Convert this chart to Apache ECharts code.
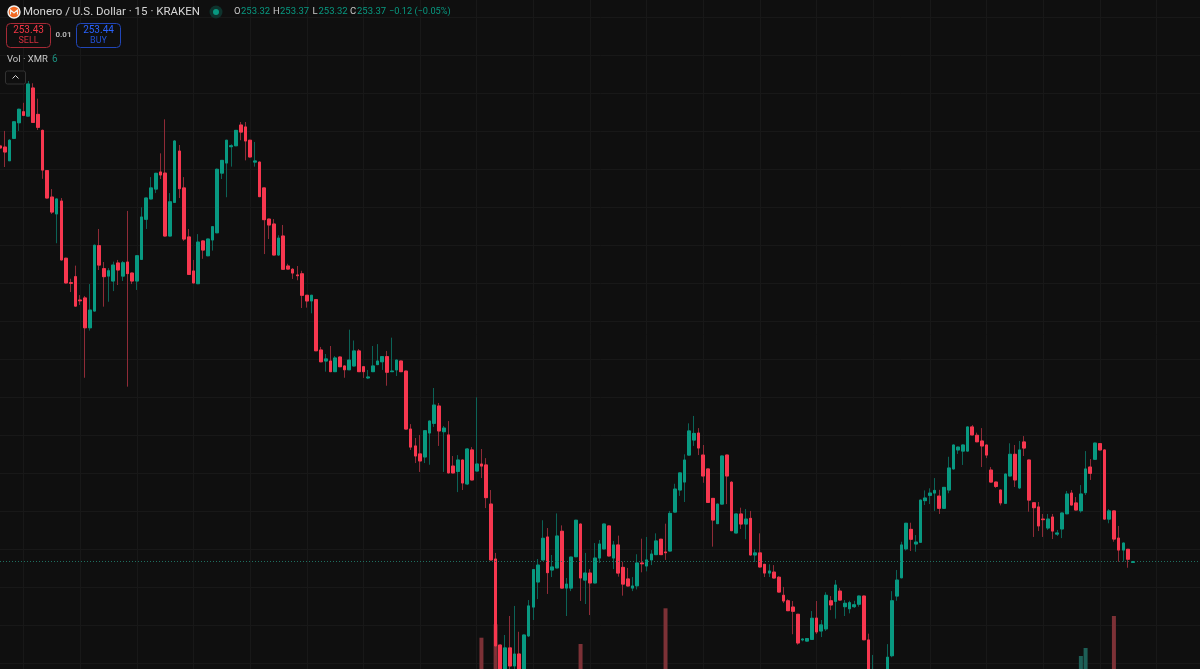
<!DOCTYPE html>
<html><head><meta charset="utf-8">
<style>html,body{margin:0;padding:0;background:#0f0f0f}#c{width:1200px;height:669px}</style>
<script src="https://cdn.jsdelivr.net/npm/echarts@6/dist/echarts.min.js"></script>
</head><body><div id="c"></div>
<script>
const opens=[275.24,275.18,274.46,275.64,276.46,277.04,276.81,278.29,276.90,276.06,
273.94,272.55,271.66,272.34,269.33,268.04,268.36,267.13,267.24,265.67,
266.55,269.99,268.78,268.39,268.13,269.08,268.39,269.13,268.55,268.13,
269.27,271.38,272.45,272.97,273.87,273.81,270.50,272.27,274.97,273.03,
270.45,268.66,267.99,270.24,269.46,270.29,270.67,273.81,274.34,275.20,
275.25,276.34,276.24,275.54,274.39,274.39,273.03,271.39,271.13,269.50,
270.50,268.92,268.75,268.45,268.51,267.38,267.08,267.15,264.50,263.92,
263.92,263.36,264.13,263.66,263.46,263.66,264.45,263.62,263.03,263.36,
263.73,263.88,264.15,263.36,263.45,263.92,263.39,260.34,259.45,259.03,
258.87,260.13,260.64,261.55,260.20,260.03,258.39,258.11,258.71,257.45,
259.24,258.13,258.50,258.45,256.39,253.50,248.97,247.39,248.82,247.87,
248.50,247.13,249.45,250.97,252.29,253.45,254.66,252.92,253.03,254.96,
251.97,251.97,253.62,255.34,252.39,252.76,252.24,253.55,254.03,255.24,
253.55,254.24,253.06,252.45,251.97,252.09,253.29,253.13,253.45,253.73,
254.54,253.87,253.92,255.97,257.13,257.55,258.97,259.76,260.13,258.97,
258.24,256.69,255.36,256.39,258.97,257.54,254.87,255.87,255.34,255.64,
253.71,253.82,253.22,252.76,252.81,252.54,251.59,251.30,250.97,250.59,
249.24,249.18,249.27,250.39,249.71,249.82,251.30,251.27,251.81,250.99,
250.88,250.99,251.12,251.55,249.24,246.60,246.50,246.50,246.87,248.41,
251.55,252.51,254.03,255.06,254.29,254.38,256.57,256.85,256.97,256.81,
256.17,257.13,258.24,259.24,259.18,259.18,260.45,260.01,259.71,259.50,
258.18,257.55,257.13,256.43,257.87,259.01,257.24,259.66,258.71,256.46,
256.24,255.60,255.13,255.71,254.81,255.08,255.88,256.97,256.45,256.04,
256.99,258.34,258.75,259.57,259.24,255.60,256.03,254.60,253.97,254.01,
253.32];
const closes=[275.13,274.92,275.54,276.51,277.17,276.85,278.50,276.48,276.22,273.97,
272.50,271.76,272.45,269.24,268.03,268.01,266.81,267.09,265.67,266.60,
270.01,268.97,268.36,268.67,268.97,268.71,269.09,268.52,268.13,269.46,
271.50,272.50,273.03,273.80,273.71,270.50,272.30,275.50,272.99,270.34,
268.48,268.03,270.18,269.76,270.34,270.99,274.01,274.48,275.54,275.25,
276.06,275.97,275.50,274.66,274.45,272.57,271.36,271.08,269.50,270.39,
268.75,268.76,268.55,268.41,267.38,267.08,267.38,264.46,263.88,264.03,
263.36,264.08,263.62,263.46,263.97,264.45,263.36,263.36,263.08,263.66,
263.92,264.15,263.33,263.39,263.97,263.36,260.34,259.39,258.92,258.66,
260.25,260.76,261.60,260.24,260.39,258.03,258.03,258.71,257.50,259.29,
257.66,258.50,258.39,256.73,253.45,248.92,247.13,248.82,247.87,248.50,
247.13,249.50,251.03,252.94,253.18,254.59,252.78,253.08,254.71,251.97,
252.18,253.60,255.54,252.50,252.76,252.24,253.55,254.29,255.34,253.66,
254.24,252.76,252.18,252.08,252.08,253.29,253.25,253.45,253.76,254.45,
253.73,253.83,255.90,257.18,258.03,258.71,260.24,260.11,259.34,257.87,
256.48,255.55,256.39,258.92,257.87,254.99,255.87,255.34,255.60,253.71,
253.82,253.08,252.76,252.87,252.50,251.76,251.29,250.78,250.75,249.08,
249.29,249.31,250.38,249.66,250.03,251.59,251.08,252.13,251.34,251.17,
251.20,251.09,251.55,249.25,246.87,247.39,247.00,246.90,248.33,251.30,
252.39,254.24,255.38,254.54,254.39,256.60,256.71,256.97,257.11,256.17,
257.27,258.29,259.50,259.39,259.50,260.45,260.03,259.67,259.45,258.97,
257.55,257.32,256.45,257.97,259.01,257.66,259.24,259.34,256.60,256.20,
255.24,255.57,255.60,254.97,254.87,255.92,256.92,256.34,256.08,256.92,
258.24,258.01,259.60,259.24,255.60,256.03,254.55,253.97,254.34,253.49,
253.37];
const lows=[275.03,274.13,274.46,275.60,276.03,276.81,276.80,276.45,276.08,273.51,
272.48,271.66,270.12,269.22,268.00,267.55,266.79,266.87,263.04,265.52,
266.53,268.71,266.78,267.04,267.60,267.92,268.13,262.57,267.97,267.66,
269.25,270.87,272.43,272.76,273.50,270.48,270.48,272.25,272.50,270.24,
268.46,268.01,267.97,269.30,269.44,269.73,270.65,273.50,272.54,274.15,
275.23,275.54,274.48,274.64,274.15,272.55,269.55,270.34,269.48,269.45,
268.73,268.74,268.24,268.17,266.71,266.73,266.43,264.44,263.86,263.36,
263.34,263.34,263.60,263.04,263.44,263.64,263.34,263.03,262.97,263.34,
263.71,263.45,262.62,263.34,263.13,263.34,260.32,259.24,258.55,258.08,
258.55,258.46,260.45,259.45,258.08,258.01,258.01,257.02,257.13,257.39,
257.64,258.11,257.76,256.18,253.43,248.41,247.00,247.30,247.60,247.55,
247.00,247.00,249.39,250.29,251.39,253.43,251.66,252.55,253.01,251.95,
250.50,251.81,253.60,251.29,251.13,250.55,252.22,253.29,254.01,253.64,
252.97,252.57,251.57,252.06,251.81,251.90,252.80,252.85,253.18,253.71,
253.71,253.45,253.90,255.95,256.82,256.50,258.95,259.45,258.97,257.51,
256.46,254.15,255.34,256.37,256.39,254.97,254.85,255.08,254.54,253.69,
253.34,253.06,252.55,252.55,252.48,251.74,251.18,250.76,249.54,248.99,
249.17,249.16,249.25,249.55,249.39,249.71,250.81,250.36,251.32,250.50,
250.64,250.92,250.99,249.23,246.80,246.50,246.40,246.40,246.80,248.33,
251.30,252.49,253.94,253.92,253.88,254.36,256.34,256.39,256.03,255.87,
256.15,256.96,258.22,259.03,258.45,259.16,260.01,259.65,258.34,258.81,
257.53,257.24,256.32,256.41,257.85,257.29,257.18,258.92,255.99,254.66,
254.97,254.66,255.03,254.55,254.71,254.60,255.86,256.32,256.06,255.94,
256.87,257.66,258.73,259.22,255.58,255.38,254.41,253.36,253.36,253.04,
253.32];
const highs=[275.45,276.03,275.60,276.55,277.20,277.51,278.66,278.54,277.73,276.10,
273.96,272.97,272.47,272.50,269.35,268.25,268.94,267.39,267.34,267.97,
270.05,270.87,269.13,268.81,269.15,269.24,269.18,271.82,268.57,269.48,
272.01,272.52,273.60,273.82,274.85,276.64,272.76,275.55,275.29,273.60,
270.87,269.24,270.60,270.26,270.36,271.01,274.05,274.50,275.56,275.33,
276.08,276.50,276.50,275.56,275.45,274.41,273.05,271.41,271.39,270.54,
271.08,269.04,268.81,268.92,268.67,267.40,267.40,267.17,264.66,264.29,
264.71,264.18,264.15,263.68,265.57,265.00,264.55,263.64,263.45,264.71,
264.81,264.17,264.45,265.15,263.99,263.94,263.41,260.60,259.87,260.03,
260.27,260.78,262.50,261.71,260.50,260.76,258.92,258.97,258.73,259.34,
259.39,262.01,259.29,258.81,257.13,253.82,249.00,249.50,250.50,251.03,
249.67,249.52,251.34,252.96,253.50,255.54,255.13,253.71,255.90,255.27,
252.50,253.62,255.56,255.36,253.82,252.97,254.34,254.50,255.36,255.26,
254.45,254.73,253.36,253.03,252.55,253.75,254.57,254.66,253.97,254.85,
254.56,255.36,256.03,257.46,258.05,259.01,260.64,261.03,260.39,259.50,
258.26,256.71,256.41,258.94,258.99,257.60,255.89,256.20,256.13,256.03,
254.01,254.85,253.24,253.22,253.18,252.60,252.03,251.38,251.29,250.61,
249.31,249.33,250.76,251.29,250.29,251.75,251.55,252.39,251.97,251.34,
251.30,251.30,251.57,251.57,249.57,248.45,247.10,247.00,249.02,251.81,
252.92,254.41,255.40,255.41,254.76,256.62,257.11,257.22,257.76,257.14,
257.29,258.88,259.52,259.41,259.52,260.47,260.55,260.15,260.39,259.52,
258.34,257.57,257.15,257.99,259.59,259.50,259.71,259.97,258.73,256.48,
256.50,255.87,255.87,255.87,255.03,255.94,257.08,257.13,256.76,257.39,
259.18,258.76,259.62,259.59,259.26,256.13,256.05,255.24,254.36,254.03,
253.37];
const volumeBars=[102,105,123,141,229,230,236];
const volumeVals=[638,772,575,932,455,535,855];
const lastPrice=253.37;
const slotCount=256;
const categories=Array.from({length:slotCount},(_,i)=>String(i));
const UP='#089981',DOWN='#f7374f',UPW='#0b6357',DOWNW='#8f2b37';
const FONT='Roboto, "Noto Sans", sans-serif';

const wicks=opens.map((o,i)=>[o,closes[i],lows[i],highs[i]]);
const bodies=opens.map((o,i)=>[o,closes[i],Math.min(o,closes[i]),Math.max(o,closes[i])]);
const volumes=categories.map((c,i)=>{
  const k=volumeBars.indexOf(i);
  if(k<0) return null;
  const up=closes[i]>=opens[i];
  return {value:volumeVals[k],itemStyle:{color:up?'#1d5f57':'#7c3136'}};
});

const T=(text,x,y,fill,size,extra)=>({type:'text',silent:true,z:100,style:Object.assign({text,x,y,fill,font:(extra&&extra.weight?extra.weight+' ':'')+size+'px '+FONT,textVerticalAlign:'middle',textAlign:(extra&&extra.align)||'left'})});

const chart=echarts.init(document.getElementById('c'),null,{renderer:'canvas',width:1200,height:669});
chart.setOption({
  animation:false,
  backgroundColor:'#0f0f0f',
  tooltip:{show:false},
  grid:{left:0,top:-20.5,width:1203.6,height:722,containLabel:false,outerBoundsMode:'none'},
  xAxis:{type:'category',data:categories,boundaryGap:false,
    axisLine:{show:false},axisTick:{show:false},axisLabel:{show:false},
    splitLine:{show:true,interval:(i)=>((i-5)%12===0),lineStyle:{color:'#181818',width:1}}},
  yAxis:[
    {type:'value',min:246,max:284,interval:2,axisLine:{show:false},axisTick:{show:false},axisLabel:{show:false},
     splitLine:{show:true,lineStyle:{color:'#181818',width:1}}},
    {type:'value',min:0,max:7220,show:false,splitLine:{show:false}}
  ],
  series:[
    {name:'Vol',type:'bar',yAxisIndex:1,data:volumes,barWidth:4,z:1,silent:true},
    {name:'Wicks',type:'candlestick',data:wicks,barWidth:3.2,z:2,silent:true,
     itemStyle:{color:UPW,color0:DOWNW,borderColor:UPW,borderColor0:DOWNW,borderWidth:1}},
    {name:'XMRUSD',type:'candlestick',data:bodies,barWidth:3.2,z:3,silent:true,
     itemStyle:{color:UP,color0:DOWN,borderColor:UP,borderColor0:DOWN,borderWidth:1},
     markLine:{silent:true,symbol:'none',label:{show:false},animation:false,
       lineStyle:{color:'#1f6f60',type:[1,2],width:1},data:[{yAxis:lastPrice}]}}
  ],
  graphic:[
    {type:'circle',silent:true,z:100,shape:{cx:14,cy:12,r:6},style:{fill:'#f26822',stroke:'#f2f2f2',lineWidth:1.4}},
    {type:'polyline',silent:true,z:101,shape:{points:[[10.5,14.5],[10.5,10],[14,13],[17.5,10],[17.5,14.5]]},style:{fill:'none',stroke:'#f4f4f4',lineWidth:1.2}},
    T('Monero / U.S. Dollar · 15 · KRAKEN',23,12,'#d6d6d6',11.5),
    {type:'circle',silent:true,z:100,shape:{cx:216,cy:12,r:6.5},style:{fill:'#0e332d'}},
    {type:'circle',silent:true,z:101,shape:{cx:216,cy:12,r:3},style:{fill:UP}},
    T('O',234,12,'#c9c9c9',9.5),T('253.32',241,12,UP,9.5),
    T('H',273,12,'#c9c9c9',9.5),T('253.37',280,12,UP,9.5),
    T('L',312.5,12,'#c9c9c9',9.5),T('253.32',318.5,12,UP,9.5),
    T('C',350,12,'#c9c9c9',9.5),T('253.37',357,12,UP,9.5),
    T('−0.12 (−0.05%)',389,12,UP,9.2),
    {type:'rect',silent:true,z:100,shape:{x:6.5,y:23.5,width:44,height:24,r:4},style:{fill:'#0f0f0f',stroke:'#a52a36',lineWidth:1}},
    T('253.43',28.5,30,'#f23645',10,{align:'center'}),
    T('SELL',28.5,40.5,'#d22f3e',9,{align:'center'}),
    T('0.01',63.5,35,'#b5b5b5',8,{align:'center',weight:'bold'}),
    {type:'rect',silent:true,z:100,shape:{x:76.5,y:23.5,width:44,height:24,r:4},style:{fill:'#0f0f0f',stroke:'#2146b8',lineWidth:1}},
    T('253.44',98.5,30,'#2962ff',10,{align:'center'}),
    T('BUY',98.5,40.5,'#2352d6',9,{align:'center'}),
    T('Vol · XMR',7,59.5,'#c9c9c9',9.5),
    T('6',52,59.5,'#1c8f7f',10),
    {type:'rect',silent:true,z:100,shape:{x:5.5,y:71,width:20,height:13,r:2},style:{fill:'#0f0f0f',stroke:'#333333',lineWidth:1}},
    {type:'polyline',silent:true,z:101,shape:{points:[[12.5,78.5],[15.5,75.5],[18.5,78.5]]},style:{fill:'none',stroke:'#d8d8d8',lineWidth:1}}
  ]
});
</script></body></html>
